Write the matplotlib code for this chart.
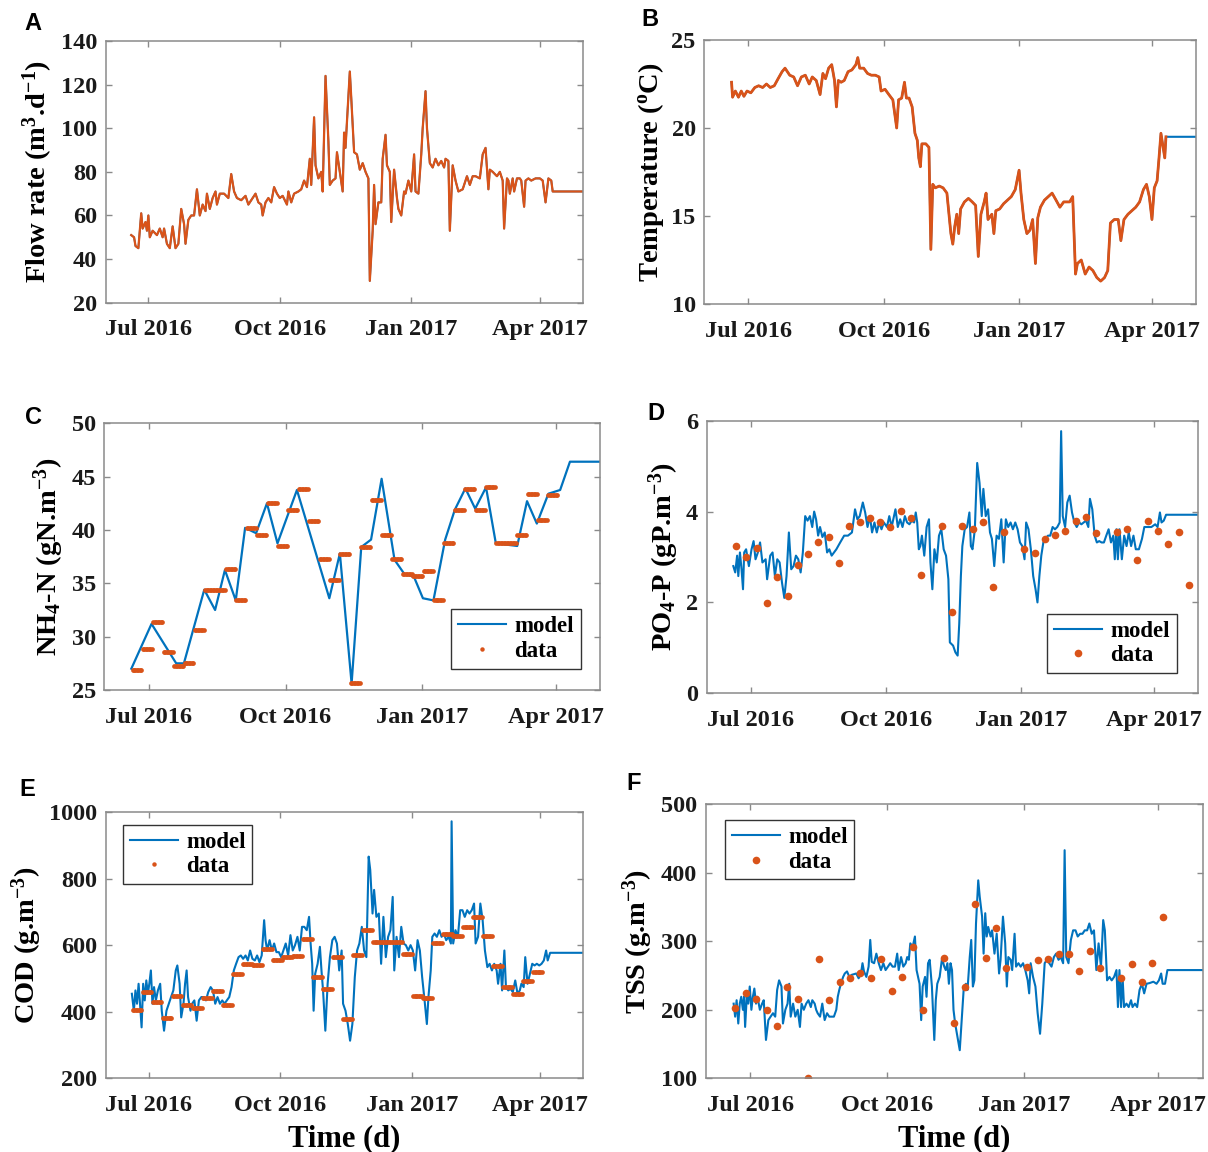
import numpy as np
import matplotlib
matplotlib.use("Agg")
import matplotlib.pyplot as plt
import matplotlib.dates as mdates
from matplotlib.lines import Line2D

# ---------------------------------------------------------------- fonts
plt.rcParams["font.family"] = "Liberation Serif"
plt.rcParams["font.weight"] = "bold"
plt.rcParams["mathtext.fontset"] = "custom"
plt.rcParams["mathtext.rm"] = "Liberation Serif:bold"
plt.rcParams["mathtext.it"] = "Liberation Serif:bold:italic"
plt.rcParams["mathtext.bf"] = "Liberation Serif:bold"
plt.rcParams["mathtext.default"] = "rm"

# ---------------------------------------------------------------- time axis
origin = "2016-07-01"                     # day 0 of every series below
x_range = ["2016-06-01", "2017-05-01"]
tick_dates = ["2016-07-01", "2016-10-01", "2017-01-01", "2017-04-01"]
tick_labels = ["Jul 2016", "Oct 2016", "Jan 2017", "Apr 2017"]

# ---------------------------------------------------------------- A: flow rate
flow_days = [-12, -10, -9, -7, -6, -5, -4, -2, -1, 0,
             1, 3, 6, 8, 10, 11, 13, 15, 17, 19,
             21, 23, 25, 26, 28, 30, 32, 34, 36, 38,
             40, 41, 43, 45, 47, 48, 50, 53, 56, 58,
             60, 62, 65, 68, 70, 73, 75, 77, 79, 80,
             82, 84, 86, 88, 90, 92, 94, 97, 98, 100,
             102, 105, 107, 109, 111, 113, 114, 116, 117, 119,
             121, 122, 124, 126, 127, 129, 131, 132, 134, 136,
             137, 138, 139, 141, 142, 144, 146, 148, 150, 152,
             154, 155, 157, 158, 159, 161, 163, 164, 166, 167,
             169, 170, 172, 174, 175, 177, 179, 180, 182, 184,
             186, 187, 189, 191, 192, 194, 195, 197, 199, 201,
             203, 205, 207, 208, 210, 211, 213, 215, 217, 220,
             223, 225, 227, 229, 232, 234, 236, 238, 239, 241,
             244, 246, 248, 249, 251, 252, 253, 255, 256, 258,
             260, 261, 263, 264, 266, 268, 271, 274, 276, 278,
             280, 282, 283, 304]
flow_vals = [51, 50, 46, 45, 53, 61, 54, 57, 53, 60,
             50, 53, 51, 54, 50, 54, 47, 45, 55, 45,
             47, 63, 56, 47, 58, 60, 60, 72, 60, 65,
             62, 70, 63, 68, 71, 65, 70, 70, 68, 79,
             71, 68, 67, 69, 65, 68, 70, 66, 65, 60,
             66, 68, 66, 73, 70, 68, 69, 65, 71, 66,
             70, 71, 72, 76, 73, 86, 74, 105, 83, 77,
             80, 71, 124, 94, 74, 76, 77, 89, 80, 71,
             98, 91, 103, 126, 114, 89, 88, 81, 84, 80,
             77, 30, 53, 74, 56, 66, 66, 86, 97, 83,
             80, 57, 81, 68, 63, 60, 71, 70, 76, 71,
             88, 71, 70, 88, 100, 117, 100, 84, 82, 86,
             83, 85, 82, 86, 85, 53, 83, 76, 71, 72,
             78, 74, 78, 78, 77, 88, 91, 72, 81, 80,
             78, 80, 76, 54, 77, 76, 70, 77, 71, 77,
             77, 76, 64, 76, 77, 76, 77, 77, 76, 66,
             77, 76, 71, 71]

# ---------------------------------------------------------------- B: temperature
temp_days = [-11.3, -10.6, -8.7, -6.6, -4.7, -2.9, -0.8, 1.8, 4.5, 7.1,
             9.8, 12.4, 15.0, 17.7, 20.3, 23.0, 25.0, 28.2, 30.9, 33.5,
             36.1, 38.8, 41.4, 43.5, 46.2, 48.8, 50.7, 52.5, 54.6, 56.7,
             58.6, 59.9, 61.2, 63.1, 65.2, 67.8, 70.4, 73.1, 74.4, 75.7,
             78.4, 81.0, 83.6, 86.3, 88.9, 90.2, 92.9, 95.5, 98.2, 99.5,
             100.8, 102.1, 104.2, 106.1, 107.4, 109.2, 111.3, 113.2, 114.8, 115.8,
             116.9, 117.9, 120.6, 122.7, 124.0, 125.3, 127.0, 129.7, 132.3, 134.9,
             137.6, 138.9, 140.2, 141.6, 142.9, 144.2, 146.8, 149.5, 152.1, 154.4,
             156.2, 158.0, 160.2, 161.5, 162.8, 165.4, 166.8, 168.1, 170.7, 173.4,
             176.0, 178.6, 181.3, 183.9, 185.2, 187.1, 189.2, 191.3, 193.1, 195.0,
             196.6, 198.4, 201.1, 203.7, 206.3, 209.0, 211.6, 214.2, 218.2, 220.3,
             222.2, 223.5, 226.1, 228.8, 231.4, 234.0, 236.7, 239.3, 241.9, 244.1,
             245.9, 248.5, 251.2, 253.0, 255.1, 257.8, 260.4, 263.1, 265.7, 268.3,
             270.4, 272.3, 274.1, 275.7, 277.6, 278.9, 280.2, 281.5, 282.8, 283.6]
temp_vals = [22.6, 21.75, 22.1, 21.75, 22.1, 21.8, 22.1, 22.0, 22.3, 22.4,
             22.3, 22.5, 22.3, 22.4, 22.8, 23.2, 23.4, 23.0, 22.9, 22.4,
             22.9, 23.0, 22.5, 22.9, 22.7, 21.9, 23.1, 22.8, 23.4, 23.6,
             22.7, 21.2, 22.7, 22.6, 22.7, 23.2, 23.3, 23.6, 24.0, 23.4,
             23.4, 23.1, 23.0, 23.0, 22.9, 22.1, 22.2, 21.9, 21.6, 20.8,
             20.0, 21.6, 21.7, 22.6, 21.7, 21.7, 21.2, 19.7, 19.3, 18.3,
             17.8, 19.1, 19.1, 18.9, 13.1, 16.8, 16.6, 16.7, 16.6, 16.3,
             14.0, 13.4, 14.4, 15.1, 14.0, 15.4, 15.8, 16.0, 15.8, 15.6,
             12.7, 15.1, 15.8, 16.3, 14.8, 15.1, 14.0, 15.3, 15.4, 15.7,
             15.9, 16.1, 16.5, 17.6, 16.3, 14.8, 14.0, 14.2, 14.8, 12.3,
             14.9, 15.5, 15.9, 16.1, 16.3, 15.9, 15.5, 15.8, 15.8, 16.1,
             11.7, 12.3, 12.5, 11.7, 12.1, 11.9, 11.5, 11.3, 11.5, 11.9,
             14.6, 14.8, 14.8, 13.6, 14.8, 15.1, 15.3, 15.5, 15.8, 16.5,
             16.8, 16.1, 14.8, 16.6, 17.0, 18.3, 19.7, 19.0, 18.3, 19.5]
sim_end_day = 304          # model run is held constant up to this day
temp_hold = 19.5

# ---------------------------------------------------------------- C: NH4-N
nh4_model_days = [-11.8, 1.8, 18.4, 23.6, 37.3, 44.6, 51.2, 58.5, 64.8, 72.2,
                  79.5, 86.6, 99.7, 121.5, 128.6, 136.5, 143.0, 149.6, 156.7, 165.4,
                  171.9, 178.5, 184.5, 191.6, 199.5, 206.0, 213.1, 219.7, 227.0, 233.6,
                  248.0, 254.6, 261.2, 269.0, 276.9, 283.5, 304]
nh4_model = [27.0, 31.2, 27.5, 27.5, 34.4, 32.5, 36.25, 33.4, 40.2, 39.7,
             42.5, 38.75, 43.75, 33.6, 37.8, 25.6, 38.4, 39.1, 44.8, 37.2,
             35.9, 35.6, 33.6, 33.4, 39.1, 41.9, 43.9, 42.0, 44.0, 38.75,
             38.5, 42.7, 40.6, 43.4, 43.75, 46.4, 46.4]
week_first_day = -11       # first day of the first weekly composite sample
nh4_data = [26.9, 28.8, 31.35, 28.6, 27.25, 27.5, 30.6, 34.4, 34.4, 36.3,
            33.4, 40.2, 39.5, 42.5, 38.5, 41.9, 43.85, 40.8, 37.25, 35.3,
            37.75, 25.7, 38.4, 42.85, 39.5, 37.25, 35.9, 35.65, 36.15, 33.4,
            38.8, 41.9, 43.85, 41.9, 44.05, 38.75, 38.75, 39.5, 43.4, 40.9,
            43.25]

# ---------------------------------------------------------------- D: PO4-P
po4_model_days = [-11.9, -10.6, -9.3, -8.5, -7.4, -6.3, -5.3, -4.5, -3.2, -1.3,
                  0.5, 1.9, 3.2, 4.8, 6.3, 7.9, 10.1, 11.1, 13.2, 14.8,
                  16.4, 18.0, 19.6, 21.2, 22.8, 24.3, 25.9, 27.5, 29.1, 30.7,
                  32.3, 33.9, 35.4, 37.0, 38.6, 40.2, 41.8, 43.1, 44.4, 45.8,
                  47.1, 48.7, 50.3, 51.9, 53.4, 55.0, 56.6, 58.2, 60.8, 63.5,
                  66.1, 68.8, 70.9, 72.5, 74.1, 76.2, 77.8, 79.4, 81.0, 82.5,
                  84.1, 85.7, 87.3, 88.9, 90.5, 92.6, 94.2, 95.8, 97.4, 98.4,
                  100.0, 101.6, 103.2, 104.8, 106.3, 107.9, 109.5, 111.1, 112.2, 113.2,
                  114.3, 115.3, 116.4, 118.0, 119.6, 121.2, 122.2, 123.5, 124.9, 126.5,
                  128.0, 129.6, 131.2, 132.8, 134.4, 135.4, 137.6, 139.2, 140.7, 141.8,
                  142.9, 143.9, 145.5, 147.1, 148.7, 149.7, 150.8, 152.4, 154.0, 155.6,
                  157.1, 158.2, 159.8, 161.4, 162.7, 164.0, 165.6, 167.2, 168.8, 170.4,
                  172.0, 173.5, 175.1, 176.7, 178.3, 179.9, 181.5, 183.1, 184.7, 186.2,
                  187.3, 188.9, 190.5, 192.1, 193.7, 195.0, 196.3, 197.6, 199.0, 200.5,
                  202.1, 203.7, 205.3, 206.9, 208.5, 210.1, 211.1, 212.2, 213.8, 215.3,
                  216.9, 218.5, 220.1, 221.7, 223.3, 224.9, 226.5, 228.0, 229.6, 230.7,
                  232.3, 233.9, 235.4, 237.0, 238.6, 240.2, 241.8, 243.4, 245.0, 246.6,
                  247.6, 248.7, 249.7, 250.8, 252.4, 254.0, 255.6, 257.1, 258.7, 260.3,
                  261.9, 264.0, 266.1, 267.7, 269.8, 272.5, 275.1, 276.7, 278.3, 279.4,
                  280.9, 282.5, 304]
po4_model = [2.8, 2.66, 3.03, 2.58, 3.1, 2.73, 2.29, 3.1, 3.17, 2.8,
             3.17, 3.35, 2.95, 3.1, 3.32, 2.88, 2.95, 2.51, 3.03, 3.1,
             2.58, 2.95, 2.88, 2.44, 2.1, 2.58, 3.54, 2.73, 2.8, 3.03,
             2.95, 2.66, 3.1, 3.9, 3.8, 3.9, 3.66, 4.0, 3.83, 3.47,
             3.66, 3.44, 3.54, 3.1, 3.17, 3.03, 3.1, 3.17, 3.32, 3.47,
             3.47, 3.54, 4.05, 3.83, 3.9, 4.2, 3.98, 3.66, 3.9, 3.54,
             3.76, 3.54, 3.76, 3.61, 3.76, 3.66, 3.9, 3.66, 3.9, 4.05,
             3.66, 3.83, 3.66, 3.9, 3.76, 3.72, 3.8, 3.76, 3.98, 3.76,
             3.17, 3.24, 3.47, 3.03, 3.66, 3.83, 2.88, 2.29, 3.17, 2.88,
             3.47, 3.61, 3.17, 3.03, 2.51, 1.12, 1.05, 0.9, 0.83, 1.54,
             2.58, 3.24, 3.61, 3.66, 3.98, 3.24, 3.17, 3.61, 5.07, 4.63,
             3.9, 4.5, 3.9, 4.05, 3.54, 3.4, 2.8, 3.47, 3.4, 3.83,
             2.88, 3.83, 3.66, 3.76, 3.61, 3.76, 3.61, 3.32, 3.24, 2.95,
             3.76, 3.61, 3.17, 2.58, 2.29, 2.0, 2.58, 3.03, 3.32, 3.4,
             3.47, 3.47, 3.66, 3.61, 3.66, 3.76, 5.77, 3.9, 3.66, 4.2,
             4.35, 3.98, 3.76, 3.66, 3.76, 3.72, 3.76, 3.8, 3.66, 4.28,
             4.05, 3.47, 3.32, 3.35, 3.32, 3.32, 3.47, 3.61, 3.32, 3.47,
             2.95, 3.61, 2.95, 3.61, 2.95, 3.47, 3.24, 3.54, 3.24, 3.47,
             3.17, 3.17, 3.4, 3.66, 3.66, 3.66, 3.72, 3.66, 3.98, 3.76,
             3.8, 3.93, 3.93]
grab_days = [-10, -3, 4, 11, 18, 25, 32, 39, 46, 53,
             60, 67, 74, 81, 88, 95, 102, 109, 116, 130,
             137, 144, 151, 158, 165, 172, 186, 193, 200, 207,
             214, 221, 228, 235, 249, 256, 263, 270, 277, 284,
             291, 298]
po4_data = [3.24, 3.0, 3.2, 1.98, 2.57, 2.15, 2.82, 3.07, 3.34, 3.45,
            2.87, 3.68, 3.78, 3.85, 3.78, 3.67, 4.01, 3.85, 2.6, 3.68,
            1.79, 3.68, 3.62, 3.76, 2.35, 3.55, 3.17, 3.09, 3.40, 3.49,
            3.58, 3.79, 3.88, 3.52, 3.55, 3.61, 2.93, 3.79, 3.58, 3.29,
            3.55, 2.38]

# ---------------------------------------------------------------- E: COD
cod_model_days = [-11.7, -10.3, -9.2, -8.1, -7.0, -6.0, -4.9, -3.8, -2.7, -1.6,
                  -0.5, 0.5, 1.6, 2.7, 3.8, 5.1, 6.5, 8.1, 9.2, 10.8,
                  12.5, 14.1, 15.7, 17.3, 19.0, 20.1, 21.7, 22.8, 24.4, 25.5,
                  26.6, 27.6, 29.3, 30.4, 32.0, 33.6, 35.2, 36.9, 38.5, 40.1,
                  41.7, 43.4, 45.0, 46.6, 48.2, 49.9, 51.5, 53.1, 54.7, 56.4,
                  58.0, 59.6, 61.2, 62.9, 64.5, 66.1, 67.8, 69.4, 71.0, 72.6,
                  74.3, 75.9, 77.5, 79.1, 80.8, 81.8, 82.9, 84.6, 86.2, 87.8,
                  89.4, 91.1, 92.7, 94.3, 95.9, 97.6, 99.2, 100.8, 102.4, 104.1,
                  105.7, 107.3, 108.9, 110.6, 112.2, 113.3, 114.4, 115.4, 116.5, 118.2,
                  119.8, 120.9, 122.0, 123.6, 125.2, 126.8, 128.5, 130.1, 131.7, 133.3,
                  135.0, 136.0, 137.7, 139.3, 140.9, 142.5, 144.2, 145.8, 147.4, 149.1,
                  150.7, 152.3, 153.9, 155.0, 156.6, 157.7, 159.3, 161.0, 162.6, 164.2,
                  165.9, 167.5, 169.1, 170.7, 171.8, 173.4, 175.1, 176.7, 178.3, 179.9,
                  181.6, 183.2, 184.8, 186.4, 188.1, 189.7, 191.3, 193.0, 194.6, 195.7,
                  197.3, 198.4, 200.0, 201.6, 203.3, 204.9, 206.5, 208.1, 209.8, 211.4,
                  211.9, 213.0, 214.6, 216.3, 217.9, 219.5, 221.1, 222.8, 224.4, 226.0,
                  227.6, 228.7, 230.4, 232.0, 233.6, 235.2, 236.9, 238.5, 240.1, 241.7,
                  243.4, 244.4, 246.1, 247.2, 248.8, 249.9, 251.5, 253.1, 254.7, 256.4,
                  258.0, 259.6, 260.7, 262.3, 263.4, 265.0, 266.7, 268.3, 269.9, 271.5,
                  273.2, 274.8, 276.4, 278.0, 279.1, 280.8, 304]
cod_model = [454, 403, 464, 424, 484, 424, 353, 484, 434, 494,
             454, 484, 524, 424, 474, 434, 464, 484, 403, 343,
             403, 424, 444, 464, 524, 539, 484, 383, 424, 484,
             524, 444, 403, 424, 434, 373, 434, 444, 444, 434,
             459, 474, 464, 424, 444, 424, 434, 424, 434, 444,
             474, 524, 544, 564, 569, 559, 569, 554, 584, 559,
             554, 569, 549, 569, 675, 615, 584, 615, 584, 605,
             579, 579, 564, 584, 605, 569, 630, 584, 600, 625,
             584, 655, 655, 645, 685, 605, 544, 403, 514, 544,
             595, 524, 464, 343, 484, 564, 615, 625, 605, 524,
             584, 424, 403, 363, 313, 363, 504, 584, 605, 655,
             584, 564, 866, 826, 695, 766, 685, 695, 544, 685,
             564, 625, 645, 745, 524, 625, 564, 655, 605, 600,
             584, 600, 584, 524, 615, 584, 504, 434, 363, 444,
             524, 625, 635, 625, 645, 625, 635, 615, 625, 605,
             972, 605, 645, 625, 705, 705, 685, 705, 695, 705,
             725, 605, 625, 725, 675, 584, 534, 544, 524, 544,
             524, 484, 544, 464, 584, 474, 464, 469, 459, 494,
             454, 464, 484, 474, 564, 484, 514, 544, 539, 544,
             539, 544, 554, 584, 554, 577, 577]
cod_data = [405, 459, 429, 380, 446, 420, 411, 441, 462, 420,
            514, 544, 541, 587, 556, 564, 566, 617, 504, 467,
            564, 378, 569, 645, 610, 608, 610, 574, 446, 441,
            605, 632, 628, 655, 685, 628, 536, 474, 454, 492,
            519]

# ---------------------------------------------------------------- F: TSS
tss_model_days = [-11.1, -10.1, -9.1, -8.0, -7.0, -6.0, -4.9, -4.1, -3.4, -2.3,
                  -1.3, -0.3, 0.8, 1.8, 2.8, 3.9, 4.9, 6.5, 8.0, 9.1,
                  10.6, 12.2, 13.7, 15.3, 16.8, 18.1, 19.4, 21.0, 22.0, 23.6,
                  25.1, 26.2, 27.2, 28.8, 30.3, 31.9, 33.4, 34.5, 36.0, 37.6,
                  39.1, 40.7, 41.7, 43.3, 44.3, 45.3, 46.9, 48.4, 50.0, 51.6,
                  53.1, 54.7, 56.2, 57.8, 58.8, 59.8, 60.9, 62.4, 63.5, 65.0,
                  66.6, 68.1, 69.7, 71.2, 72.8, 74.4, 75.4, 76.4, 78.0, 79.5,
                  80.6, 81.6, 83.2, 84.7, 86.3, 87.8, 89.4, 90.9, 92.5, 94.0,
                  95.6, 97.2, 98.7, 99.7, 101.3, 102.8, 104.4, 105.4, 106.5, 107.5,
                  109.1, 110.6, 111.7, 112.7, 113.7, 114.8, 115.8, 117.4, 118.4, 119.4,
                  120.5, 122.0, 123.6, 124.6, 125.6, 127.2, 128.8, 130.3, 131.3, 132.4,
                  133.4, 134.5, 135.5, 136.5, 137.6, 139.1, 140.7, 141.7, 143.3, 144.8,
                  145.9, 147.4, 148.4, 149.5, 150.5, 151.6, 153.1, 154.1, 155.7, 156.7,
                  157.8, 158.8, 159.8, 161.4, 162.4, 164.0, 165.5, 167.1, 168.1, 169.7,
                  171.2, 172.3, 173.3, 174.9, 175.9, 177.5, 178.5, 180.1, 181.6, 183.2,
                  184.7, 186.3, 187.3, 188.3, 189.9, 191.5, 193.0, 194.6, 196.1, 197.7,
                  199.2, 200.8, 202.3, 203.9, 205.4, 207.0, 208.5, 210.1, 211.1, 212.2,
                  213.7, 215.3, 216.8, 218.4, 219.9, 221.5, 223.1, 224.6, 226.2, 227.7,
                  229.3, 230.8, 232.4, 233.9, 235.5, 237.0, 238.1, 239.6, 241.2, 242.7,
                  244.3, 245.9, 246.9, 247.9, 249.0, 250.0, 251.0, 252.6, 254.1, 255.7,
                  256.7, 258.3, 259.8, 261.4, 263.0, 264.5, 266.1, 268.1, 270.7, 272.8,
                  274.4, 275.9, 276.9, 278.5, 280.1, 304]
tss_model = [209, 190, 214, 180, 209, 219, 200, 219, 175, 219,
             209, 234, 200, 219, 231, 209, 219, 200, 209, 214,
             156, 185, 190, 195, 190, 229, 243, 234, 180, 200,
             209, 238, 190, 209, 190, 200, 175, 209, 200, 209,
             214, 204, 214, 209, 200, 195, 190, 209, 185, 195,
             190, 190, 190, 200, 219, 229, 238, 248, 253, 256,
             248, 251, 252, 253, 246, 253, 268, 256, 248, 263,
             302, 270, 268, 282, 268, 258, 268, 258, 263, 268,
             263, 263, 282, 258, 277, 263, 268, 277, 273, 297,
             292, 307, 258, 248, 238, 185, 234, 248, 219, 268,
             273, 234, 156, 214, 238, 248, 275, 263, 258, 268,
             238, 268, 258, 200, 180, 161, 141, 175, 229, 238,
             229, 277, 302, 234, 243, 326, 389, 365, 336, 282,
             341, 307, 321, 307, 316, 282, 311, 253, 273, 336,
             297, 234, 277, 273, 258, 311, 263, 268, 263, 268,
             258, 243, 224, 268, 248, 234, 195, 165, 209, 268,
             273, 268, 263, 277, 282, 273, 277, 268, 433, 277,
             268, 302, 316, 316, 307, 311, 311, 316, 316, 326,
             311, 316, 258, 297, 263, 331, 316, 243, 248, 243,
             248, 258, 204, 258, 204, 248, 204, 209, 204, 214,
             204, 209, 204, 229, 238, 224, 238, 239, 241, 238,
             243, 253, 238, 238, 258, 258]
tss_grab_days = [-10, -3, 4, 11, 18, 25, 32, 39, 46, 53,
                 60, 67, 74, 81, 88, 95, 102, 109, 116, 130,
                 137, 144, 151, 158, 165, 172, 186, 193, 200, 207,
                 214, 221, 228, 235, 249, 256, 263, 270, 277]
tss_data = [202, 225, 216, 200, 176, 233, 216, 100, 274, 215,
            240, 247, 254, 247, 274, 227, 248, 292, 200, 275,
            181, 233, 355, 275, 320, 261, 262, 272, 274, 281,
            281, 256, 286, 261, 247, 267, 241, 269, 336]

# ---------------------------------------------------------------- styling
BLUE = "#0072BD"
ORANGE = "#D95319"
SPINE = "#8a8a8a"
W, H = 1208, 1152
LABEL_SIZE = 20.5
TICK_SIZE = 17.5

t0 = mdates.date2num(np.datetime64(origin))


def to_x(days):
    return t0 + np.asarray(days, dtype=float)


def weekly_runs(first_day, values, run_len=7):
    """Expand weekly composite values into one point per day of the week."""
    days, vals = [], []
    for i, v in enumerate(values):
        for k in range(run_len):
            days.append(first_day + 7 * i + k)
            vals.append(v)
    return days, vals


def box(px_left, px_top, px_right, px_bottom):
    return [px_left / W, 1 - px_bottom / H,
            (px_right - px_left) / W, (px_bottom - px_top) / H]


def style(ax, ylim, yticks, ylabel):
    ax.set_xlim(mdates.date2num(np.datetime64(x_range[0])),
                mdates.date2num(np.datetime64(x_range[1])))
    ax.set_xticks([mdates.date2num(np.datetime64(d)) for d in tick_dates])
    ax.set_xticklabels(tick_labels)
    ax.set_ylim(*ylim)
    ax.set_yticks(yticks)
    ax.set_ylabel(ylabel, fontsize=LABEL_SIZE, fontweight="bold", labelpad=4)
    for s in ax.spines.values():
        s.set_color(SPINE)
        s.set_linewidth(1.1)
    ax.tick_params(direction="in", length=4, width=1.0, color=SPINE,
                   labelcolor="#1a1a1a", labelsize=TICK_SIZE, top=True, right=True)
    ax.tick_params(axis="x", pad=12)
    ax.tick_params(axis="y", pad=6)
    for lab in ax.get_xticklabels() + ax.get_yticklabels():
        lab.set_fontweight("bold")


def add_legend(ax, marker_size, loc, anchor):
    handles = [Line2D([], [], color=BLUE, lw=1.5),
               Line2D([], [], color=ORANGE, lw=0, marker="o",
                      markersize=marker_size, markeredgewidth=0)]
    leg = ax.legend(handles, ["model", "data"], loc=loc, bbox_to_anchor=anchor,
                    prop={"family": "Liberation Serif", "weight": "bold", "size": 16.5},
                    frameon=True, fancybox=False, framealpha=1, edgecolor="#333333",
                    handlelength=2.1, handletextpad=0.35, labelspacing=0.15,
                    borderpad=0.3, borderaxespad=0)
    leg.get_frame().set_linewidth(1.0)


fig = plt.figure(figsize=(W / 100, H / 100), dpi=100, facecolor="white")

# A
axA = fig.add_axes(box(105.5, 41, 582.7, 302.7))
axA.plot(to_x(flow_days), flow_vals, color=BLUE, lw=1.3)
axA.plot(to_x(flow_days), flow_vals, color=ORANGE, lw=1.6)
style(axA, (20, 140), range(20, 141, 20), r"Flow rate (m$^{3}$.d$^{-1}$)")

# B
axB = fig.add_axes(box(704, 40, 1196, 304))
axB.plot(to_x(list(temp_days) + [sim_end_day]), list(temp_vals) + [temp_hold],
         color=BLUE, lw=1.5)
axB.plot(to_x(temp_days), temp_vals, color=ORANGE, lw=2.0)
style(axB, (10, 25), [10, 15, 20, 25], r"Temperature ($^{o}$C)")

# C
axC = fig.add_axes(box(104.3, 423.3, 600.4, 690))
axC.plot(to_x(nh4_model_days), nh4_model, color=BLUE, lw=1.6)
d_days, d_vals = weekly_runs(week_first_day, nh4_data)
axC.plot(to_x(d_days), d_vals, ls="none", marker="o", markersize=3.4,
         markeredgewidth=0, color=ORANGE)
style(axC, (25, 50), range(25, 51, 5), r"NH$_{4}$-N (gN.m$^{-3}$)")
add_legend(axC, 3.2, "lower right", (0.96, 0.08))

# D
axD = fig.add_axes(box(706.7, 420.7, 1197.7, 693.3))
axD.plot(to_x(po4_model_days), po4_model, color=BLUE, lw=1.5)
axD.plot(to_x(grab_days), po4_data, ls="none", marker="o", markersize=5.5,
         markeredgewidth=0, color=ORANGE)
style(axD, (0, 6), [0, 2, 4, 6], r"PO$_{4}$-P (gP.m$^{-3}$)")
add_legend(axD, 5.5, "lower right", (0.957, 0.074))

# E
axE = fig.add_axes(box(105.7, 812, 583.3, 1078.3))
axE.plot(to_x(cod_model_days), cod_model, color=BLUE, lw=1.5)
d_days, d_vals = weekly_runs(week_first_day, cod_data)
axE.plot(to_x(d_days), d_vals, ls="none", marker="o", markersize=3.4,
         markeredgewidth=0, color=ORANGE)
style(axE, (200, 1000), range(200, 1001, 200), r"COD (g.m$^{-3}$)")
axE.set_xlabel("Time (d)", fontsize=22, fontweight="bold", labelpad=6)
add_legend(axE, 3.2, "upper left", (0.036, 0.951))

# F
axF = fig.add_axes(box(705.5, 804.3, 1203, 1078.3))
axF.plot(to_x(tss_model_days), tss_model, color=BLUE, lw=1.5)
axF.plot(to_x(tss_grab_days), tss_data, ls="none", marker="o", markersize=5.5,
         markeredgewidth=0, color=ORANGE)
style(axF, (100, 500), range(100, 501, 100), r"TSS (g.m$^{-3}$)")
axF.set_xlabel("Time (d)", fontsize=22, fontweight="bold", labelpad=6)
add_legend(axF, 5.5, "upper left", (0.039, 0.942))

# panel letters
for letter, (px, py) in zip("ABCDEF", [(33, 24), (650, 19), (33, 418),
                                        (656, 413), (27, 790), (634, 784)]):
    fig.text(px / W, 1 - py / H, letter, family="Liberation Sans",
             fontweight="bold", fontsize=17, ha="center", va="center")

fig.savefig("out.png", dpi=100, facecolor="white")
